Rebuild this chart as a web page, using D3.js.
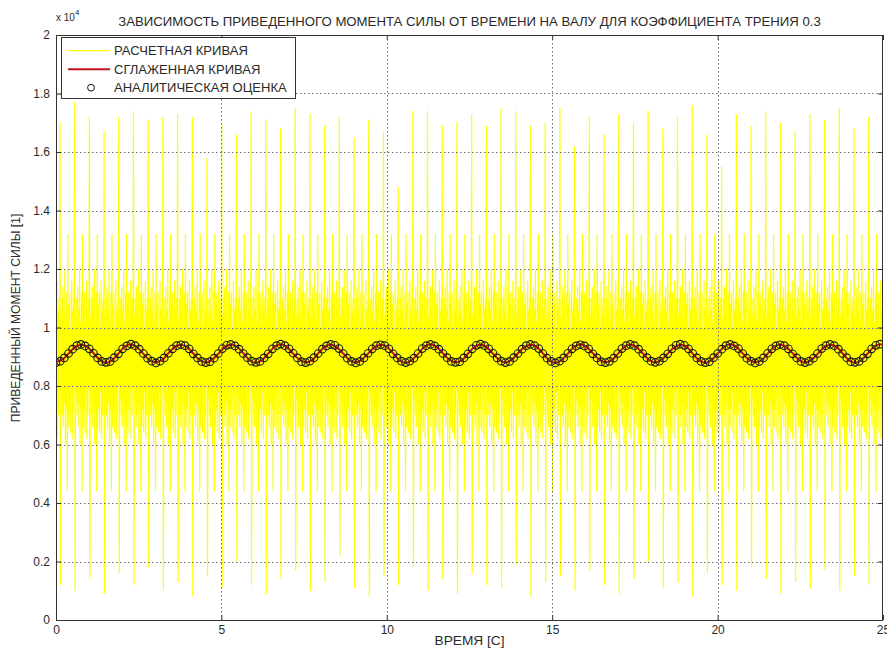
<!DOCTYPE html>
<html><head><meta charset="utf-8">
<script src="https://cdn.jsdelivr.net/npm/d3@7"></script>
<style>
body{margin:0;background:#fff}
svg text{font-family:"Liberation Sans",Arial,Helvetica,sans-serif;fill:#2a2a2a}
</style>
</head><body>
<svg id="chart" width="887" height="657"></svg>
<script>
// ---- texts ----
const titleText = "ЗАВИСИМОСТЬ ПРИВЕДЕННОГО МОМЕНТА СИЛЫ ОТ ВРЕМЕНИ НА ВАЛУ ДЛЯ КОЭФФИЦИЕНТА ТРЕНИЯ 0.3";
const xLabelText = "ВРЕМЯ [С]";
const yLabelText = "ПРИВЕДЕННЫЙ МОМЕНТ СИЛЫ [1]";
const legendLabels = ["РАСЧЕТНАЯ КРИВАЯ", "СГЛАЖЕННАЯ КРИВАЯ", "АНАЛИТИЧЕСКАЯ ОЦЕНКА"];

// ---- ticks ----
const xTicks = [0, 5, 10, 15, 20, 25];
const yTicks = [0, 0.2, 0.4, 0.6, 0.8, 1, 1.2, 1.4, 1.6, 1.8, 2];
const yTickLabels = ["0", "0.2", "0.4", "0.6", "0.8", "1", "1.2", "1.4", "1.6", "1.8", "2"];

// ---- computed torque (units of 1e4): one impact per cycle ----
const cyclePeriod = 0.4445;          // s between impacts
const firstCycleStart = -0.3245;     // s, first impact at 0.12 s is cycle #1
const impactHigh = [
  1.62, 1.70, 1.77, 1.72, 1.67, 1.72, 1.74, 1.71, 1.72, 1.73,
  1.72, 1.58, 1.70, 1.66, 1.74, 1.71, 1.68, 1.75, 1.73, 1.69,
  1.72, 1.65, 1.71, 1.67, 1.48, 1.74, 1.74, 1.69, 1.70, 1.73,
  1.69, 1.75, 1.74, 1.69, 1.70, 1.75, 1.62, 1.72, 1.66, 1.73,
  1.70, 1.74, 1.68, 1.72, 1.76, 1.66, 1.55, 1.73, 1.69, 1.74,
  1.70, 1.67, 1.73, 1.71, 1.75, 1.68, 1.72
];
const impactLow = [
  0.15, 0.12, 0.10, 0.14, 0.09, 0.16, 0.12, 0.18, 0.10, 0.13,
  0.08, 0.15, 0.11, 0.20, 0.12, 0.09, 0.14, 0.17, 0.10, 0.13,
  0.22, 0.11, 0.08, 0.15, 0.12, 0.18, 0.10, 0.14, 0.09, 0.16,
  0.12, 0.11, 0.19, 0.08, 0.13, 0.15, 0.10, 0.17, 0.12, 0.09,
  0.14, 0.20, 0.11, 0.13, 0.08, 0.16, 0.12, 0.10, 0.18, 0.14,
  0.09, 0.13, 0.11, 0.17, 0.10, 0.15, 0.12
];
// fast oscillation between impacts
const ripple = [
  1.04, 0.76, 1.10, 0.70, 1.14, 0.66, 1.06, 0.74, 1.20, 0.60,
  1.02, 0.72, 1.12, 0.44, 1.32, 0.66, 1.08, 0.72, 1.12, 0.64,
  1.00, 0.78, 1.16, 0.62, 1.06, 0.70, 1.10, 0.80
];

// ---- smoothed curve (units of 1e4) ----
const smoothStep = 0.18875;
const smoothValues = [
  0.882, 0.890, 0.910, 0.932, 0.941, 0.934, 0.912, 0.890,
  0.879, 0.888, 0.911, 0.934, 0.943, 0.932, 0.910, 0.888,
  0.881, 0.889, 0.912, 0.933, 0.941, 0.933, 0.911, 0.889,
  0.880, 0.890, 0.910, 0.932, 0.942, 0.934, 0.912, 0.888,
  0.879, 0.889, 0.911, 0.934, 0.943, 0.933, 0.910, 0.890,
  0.881, 0.888, 0.912, 0.933, 0.942, 0.932, 0.911, 0.889,
  0.880, 0.890, 0.911, 0.932, 0.941, 0.934, 0.912, 0.888,
  0.879, 0.889, 0.910, 0.934, 0.943, 0.933, 0.911, 0.890,
  0.881, 0.888, 0.911, 0.933, 0.942, 0.932, 0.910, 0.889,
  0.880, 0.890, 0.912, 0.932, 0.941, 0.934, 0.911, 0.888,
  0.879, 0.889, 0.911, 0.934, 0.943, 0.933, 0.912, 0.890,
  0.881, 0.888, 0.910, 0.933, 0.942, 0.932, 0.911, 0.889,
  0.880, 0.890, 0.911, 0.932, 0.941, 0.934, 0.910, 0.888,
  0.879, 0.889, 0.912, 0.934, 0.943, 0.933, 0.911, 0.890,
  0.881, 0.888, 0.911, 0.933, 0.942, 0.932, 0.912, 0.889,
  0.880, 0.890, 0.910, 0.932, 0.941, 0.934, 0.911, 0.888,
  0.879, 0.889, 0.911, 0.934, 0.943, 0.933, 0.910, 0.890
];

// ---- analytic estimate (units of 1e4) ----
const estimateStep = 0.1258;
const estimateValues = [
  0.880, 0.885, 0.896, 0.911, 0.926, 0.938, 0.942, 0.937, 0.927, 0.912, 0.896, 0.884,
  0.881, 0.884, 0.897, 0.910, 0.927, 0.937, 0.943, 0.938, 0.926, 0.911, 0.895, 0.885,
  0.879, 0.885, 0.896, 0.912, 0.927, 0.938, 0.941, 0.938, 0.927, 0.910, 0.896, 0.884,
  0.880, 0.883, 0.895, 0.911, 0.928, 0.939, 0.942, 0.937, 0.926, 0.911, 0.897, 0.885,
  0.881, 0.884, 0.896, 0.910, 0.927, 0.938, 0.943, 0.938, 0.927, 0.912, 0.896, 0.883,
  0.880, 0.885, 0.897, 0.911, 0.926, 0.937, 0.942, 0.939, 0.928, 0.911, 0.895, 0.884,
  0.879, 0.884, 0.896, 0.912, 0.927, 0.938, 0.941, 0.938, 0.927, 0.910, 0.896, 0.885,
  0.880, 0.885, 0.895, 0.911, 0.928, 0.938, 0.942, 0.937, 0.926, 0.911, 0.897, 0.884,
  0.881, 0.883, 0.896, 0.910, 0.927, 0.939, 0.943, 0.938, 0.927, 0.912, 0.896, 0.885,
  0.880, 0.884, 0.897, 0.911, 0.926, 0.938, 0.942, 0.938, 0.928, 0.911, 0.895, 0.884,
  0.879, 0.885, 0.896, 0.912, 0.927, 0.937, 0.941, 0.937, 0.927, 0.910, 0.896, 0.883,
  0.880, 0.884, 0.895, 0.911, 0.928, 0.938, 0.942, 0.938, 0.926, 0.911, 0.897, 0.885,
  0.881, 0.885, 0.896, 0.910, 0.927, 0.939, 0.943, 0.939, 0.927, 0.912, 0.896, 0.884,
  0.880, 0.883, 0.897, 0.911, 0.926, 0.938, 0.942, 0.937, 0.928, 0.911, 0.895, 0.885,
  0.879, 0.884, 0.896, 0.912, 0.927, 0.937, 0.941, 0.938, 0.927, 0.910, 0.896, 0.884,
  0.880, 0.885, 0.895, 0.911, 0.928, 0.938, 0.942, 0.938, 0.926, 0.911, 0.897, 0.883,
  0.881, 0.884, 0.896, 0.910, 0.927, 0.939, 0.943, 0.937, 0.927, 0.912, 0.896, 0.885
];

// ---- layout ----
const plot = {left: 56, right: 883, top: 35, bottom: 620};
const svg = d3.select("#chart");

const x = d3.scaleLinear().domain([0, 25]).range([plot.left, plot.right]);
const y = d3.scaleLinear().domain([0, 2]).range([plot.bottom, plot.top]);

const defs = svg.append("defs");
defs.append("clipPath").attr("id", "plotClip")
  .append("rect").attr("x", plot.left).attr("y", plot.top)
  .attr("width", plot.right - plot.left).attr("height", plot.bottom - plot.top);
defs.append("filter").attr("id", "soft").attr("x", "-5%").attr("y", "-5%")
  .attr("width", "110%").attr("height", "110%")
  .append("feGaussianBlur").attr("stdDeviation", 0.6);

// ---- build computed signal from the cycle tables ----
const perCycle = ripple.length + 2;
const subStep = cyclePeriod / perCycle;
const rawSignal = [];
impactHigh.forEach((h, k) => {
  const t0 = firstCycleStart + k * cyclePeriod;
  [h, impactLow[k], ...ripple].forEach((v, j) => rawSignal.push({t: t0 + j * subStep, v}));
});
const smoothSeries = smoothValues.map((v, i) => ({t: i * smoothStep, v}));
const estimateSeries = estimateValues.map((v, i) => ({t: i * estimateStep, v}))
  .filter(d => d.t <= 25);

const content = svg.append("g").attr("clip-path", "url(#plotClip)");

// computed curve
content.append("g").attr("filter", "url(#soft)").append("path")
  .datum(rawSignal)
  .attr("fill", "none")
  .attr("stroke", "#ffff00")
  .attr("stroke-width", 1.2)
  .attr("d", d3.line().x(d => x(d.t)).y(d => y(d.v)));

// grid
const grid = svg.append("g").attr("stroke", "#6e6e6e").attr("stroke-width", 1)
  .attr("stroke-dasharray", "1.5,2.5");
grid.selectAll("line.gx").data(xTicks.slice(1, -1)).join("line")
  .attr("x1", d => Math.round(x(d)) + 0.5).attr("x2", d => Math.round(x(d)) + 0.5)
  .attr("y1", plot.top).attr("y2", plot.bottom);
grid.selectAll("line.gy").data(yTicks.slice(1, -1)).join("line")
  .attr("y1", d => Math.round(y(d)) + 0.5).attr("y2", d => Math.round(y(d)) + 0.5)
  .attr("x1", plot.left).attr("x2", plot.right);

// smoothed curve
content.append("path")
  .datum(smoothSeries)
  .attr("fill", "none")
  .attr("stroke", "#c4141c")
  .attr("stroke-width", 2)
  .attr("d", d3.line().curve(d3.curveCatmullRom).x(d => x(d.t)).y(d => y(d.v)));

// analytic estimate markers
content.append("g").selectAll("circle").data(estimateSeries).join("circle")
  .attr("cx", d => x(d.t)).attr("cy", d => y(d.v)).attr("r", 3.8)
  .attr("fill", "none").attr("stroke", "#1a1a1a").attr("stroke-width", 1.1);

// ---- axes (ticks inside, box around) ----
const axisColor = "#333";
const fmtY = d => yTickLabels[yTicks.indexOf(d)];
const gx = svg.append("g").attr("transform", `translate(0,${plot.bottom})`)
  .call(d3.axisBottom(x).tickValues(xTicks).tickSize(-5).tickSizeOuter(0).tickPadding(5));
const gy = svg.append("g").attr("transform", `translate(${plot.left},0)`)
  .call(d3.axisLeft(y).tickValues(yTicks).tickFormat(fmtY).tickSize(-5).tickSizeOuter(0).tickPadding(6));
const gt = svg.append("g").attr("transform", `translate(0,${plot.top})`)
  .call(d3.axisTop(x).tickValues(xTicks).tickSize(-5).tickSizeOuter(0).tickFormat(""));
const gr = svg.append("g").attr("transform", `translate(${plot.right},0)`)
  .call(d3.axisRight(y).tickValues(yTicks).tickSize(-5).tickSizeOuter(0).tickFormat(""));
[gx, gy, gt, gr].forEach(g => {
  g.attr("color", axisColor);
  g.selectAll("text").attr("font-size", 12).style("font-family", "'Liberation Sans',Arial,sans-serif").attr("fill", "#2a2a2a");
  g.select(".domain").remove();
});

svg.append("rect")
  .attr("x", plot.left + 0.5).attr("y", plot.top + 0.5)
  .attr("width", plot.right - plot.left - 1).attr("height", plot.bottom - plot.top)
  .attr("fill", "none").attr("stroke", axisColor).attr("stroke-width", 1);

// scale exponent
const expo = svg.append("text").attr("x", 56).attr("y", 21).attr("font-size", 10);
expo.append("tspan").text("x 10");
expo.append("tspan").attr("font-size", 8).attr("dy", -6).text("4");

// fit a text element to a given width
function fitWidth(sel, width) {
  const base = +sel.attr("font-size");
  const len = sel.node().getComputedTextLength();
  sel.attr("font-size", base * width / len);
}

// title
const title = svg.append("text").attr("x", 469.5).attr("y", 26)
  .attr("text-anchor", "middle").attr("font-size", 12).text(titleText);
fitWidth(title, 703);

// axis labels
const xl = svg.append("text").attr("x", 469.5).attr("y", 645)
  .attr("text-anchor", "middle").attr("font-size", 11).text(xLabelText);
fitWidth(xl, 70);
const yl = svg.append("text").attr("transform", "translate(20,318) rotate(-90)")
  .attr("text-anchor", "middle").attr("font-size", 11).text(yLabelText);
fitWidth(yl, 209);

// ---- legend ----
const lg = svg.append("g");
lg.append("rect").attr("x", 61.5).attr("y", 37.5).attr("width", 234).attr("height", 61)
  .attr("fill", "#fff").attr("stroke", axisColor).attr("stroke-width", 1);
const rowsY = [50.7, 69.3, 87.7];
lg.append("line").attr("x1", 68).attr("x2", 110).attr("y1", rowsY[0]).attr("y2", rowsY[0])
  .attr("stroke", "#ffff00").attr("stroke-width", 1.2);
lg.append("line").attr("x1", 68).attr("x2", 110).attr("y1", rowsY[1]).attr("y2", rowsY[1])
  .attr("stroke", "#c4141c").attr("stroke-width", 2);
lg.append("circle").attr("cx", 91).attr("cy", rowsY[2]).attr("r", 3.4)
  .attr("fill", "none").attr("stroke", "#111").attr("stroke-width", 1);
const legTexts = legendLabels.map((t, i) => lg.append("text")
  .attr("x", 114).attr("y", rowsY[i]).attr("dy", "0.36em").attr("font-size", 11).text(t));
const longest = legTexts[2].node().getComputedTextLength();
const legSize = 11 * 173 / longest;
legTexts.forEach(s => s.attr("font-size", legSize));
</script>
</body></html>
